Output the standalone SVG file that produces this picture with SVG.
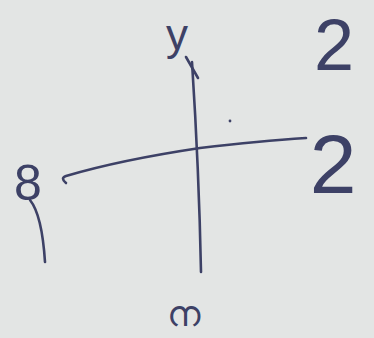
<svg xmlns="http://www.w3.org/2000/svg" width="374" height="338" viewBox="0 0 374 338">
<style>
.ink{fill:none;stroke:#3d4166;stroke-width:2.6;stroke-linecap:round;stroke-linejoin:round}
.lbl{fill:#3d4166;font-family:"Liberation Sans","DejaVu Sans",sans-serif;text-anchor:middle}
</style>
<rect width="374" height="338" fill="#e3e5e4"/>
<g id="connectors">
<path class="ink" d="M201,272 Q199,170 192,62"/>
<path class="ink" d="M186,57 L198,78"/>
<path class="ink" d="M66,183 Q60,178 66,176 Q120,160 200,148 Q260,141 306,138"/>
<path class="ink" d="M30,200 Q42,215 45,262"/>
<circle cx="230" cy="121" r="1.4" fill="#3d4166"/>
</g>
<g id="node-top"><text class="lbl" x="177" y="50" font-size="44">y</text></g>
<g id="node-topright"><text class="lbl" x="334" y="70" font-size="72">2</text></g>
<g id="node-left"><text class="lbl" x="28" y="200" font-size="50">8</text></g>
<g id="node-right"><text class="lbl" x="333" y="193" font-size="84">2</text></g>
<g id="node-bottom"><text class="lbl" x="183" y="326" font-size="36" font-family="'Noto Sans Malayalam','Noto Sans',sans-serif">ന</text></g>
</svg>
